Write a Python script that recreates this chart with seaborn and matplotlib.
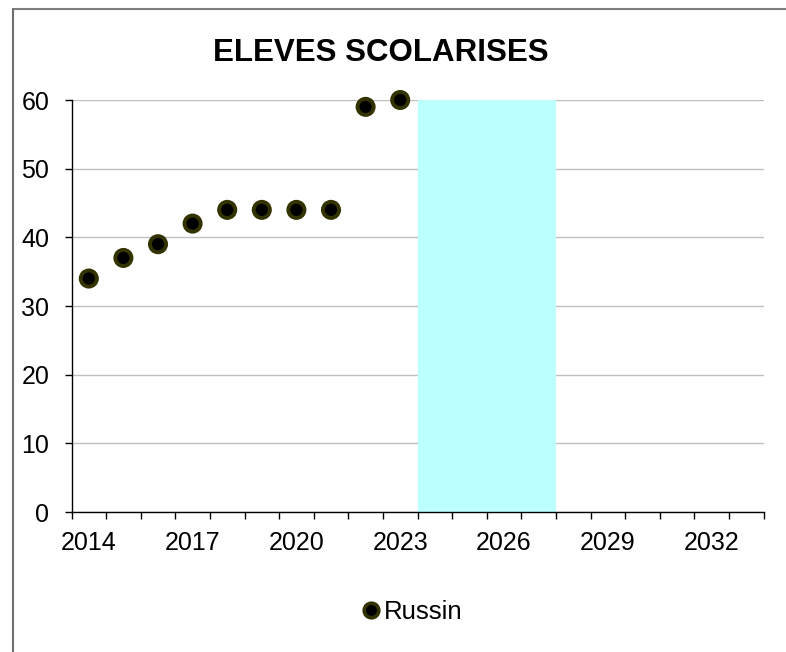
"""Eleves scolarises - Russin."""
import numpy as np
import matplotlib
matplotlib.use("Agg")
import matplotlib.pyplot as plt
from matplotlib.lines import Line2D
import pandas as pd
import seaborn as sns

years = [2014, 2015, 2016, 2017, 2018, 2019, 2020, 2021, 2022, 2023]
eleves = [34, 37, 39, 42, 44, 44, 44, 44, 59, 60]
band_years = [2024, 2025, 2026, 2027]
band_values = [60, 60, 60, 60]
label_years = [2014, 2017, 2020, 2023, 2026, 2029, 2032]
yticks = [0, 10, 20, 30, 40, 50, 60]
series_name = "Russin"
title = "ELEVES SCOLARISES"

sns.set_style("white")
plt.rcParams['font.family'] = ['Liberation Sans', 'DejaVu Sans']
plt.rcParams['text.color'] = 'black'
plt.rcParams['xtick.labelcolor'] = 'black'
plt.rcParams['ytick.labelcolor'] = 'black'

df = pd.DataFrame({'annee': years, 'eleves': eleves, 'serie': series_name})

fig = plt.figure(figsize=(7.86, 6.52), dpi=100)
ax = fig.add_axes([71.5 / 786, 1 - 512 / 652, 692 / 786, 412 / 652])

ax.bar(band_years, band_values, width=1.0, color='#BBFFFF', linewidth=0, zorder=1)
sns.scatterplot(data=df, x='annee', y='eleves', hue='serie', palette=['black'],
                s=135, edgecolor='#333300', linewidth=2.8, legend=False, ax=ax,
                zorder=3, clip_on=False)

ax.set_xlim(2013.5, 2033.5)
ax.set_ylim(0, 60)
ax.set_xlabel('')
ax.set_ylabel('')

# ticks between categories, labels on every third year
ax.set_xticks(np.arange(2013.5, 2034, 1))
ax.set_xticklabels([])
ax.tick_params(axis='x', which='major', direction='out', length=5, width=1, color='black', bottom=True)
ax.set_xticks(label_years, labels=[str(y) for y in label_years], minor=True)
ax.tick_params(axis='x', which='minor', length=0, pad=14, labelsize=18, labelcolor='black')

ax.set_yticks(yticks)
ax.tick_params(axis='y', direction='out', length=5, width=1, color='black', left=True,
               pad=11, labelsize=18, labelcolor='black')

ax.grid(axis='y', color='#C0C0C0', linewidth=1, zorder=0)
ax.set_axisbelow(True)
for side in ['top', 'right']:
    ax.spines[side].set_visible(False)
for side in ['left', 'bottom']:
    ax.spines[side].set_color('black')
    ax.spines[side].set_linewidth(1)
    ax.spines[side].set_zorder(4)

fig.text(381 / 786, 1 - 53 / 652, title, ha='center', va='center',
         fontsize=22.5, fontweight='bold', color='black')

handle = Line2D([], [], linestyle='', marker='o', markersize=10.5, markerfacecolor='black',
                markeredgecolor='#333300', markeredgewidth=2.6)
fig.legend([handle], [series_name], loc='center', bbox_to_anchor=(412 / 786, 1 - 612 / 652),
           frameon=False, fontsize=18.5, handletextpad=0.1, handlelength=0.8)

# outer frame of the chart
fig.add_artist(Line2D([13 / 786, 1], [1 - 9 / 652, 1 - 9 / 652], color='#7F7F7F', linewidth=1.5))
fig.add_artist(Line2D([13 / 786, 13 / 786], [0, 1 - 9 / 652], color='#6F6F6F', linewidth=1.5))

fig.savefig('out.png', dpi=100)
